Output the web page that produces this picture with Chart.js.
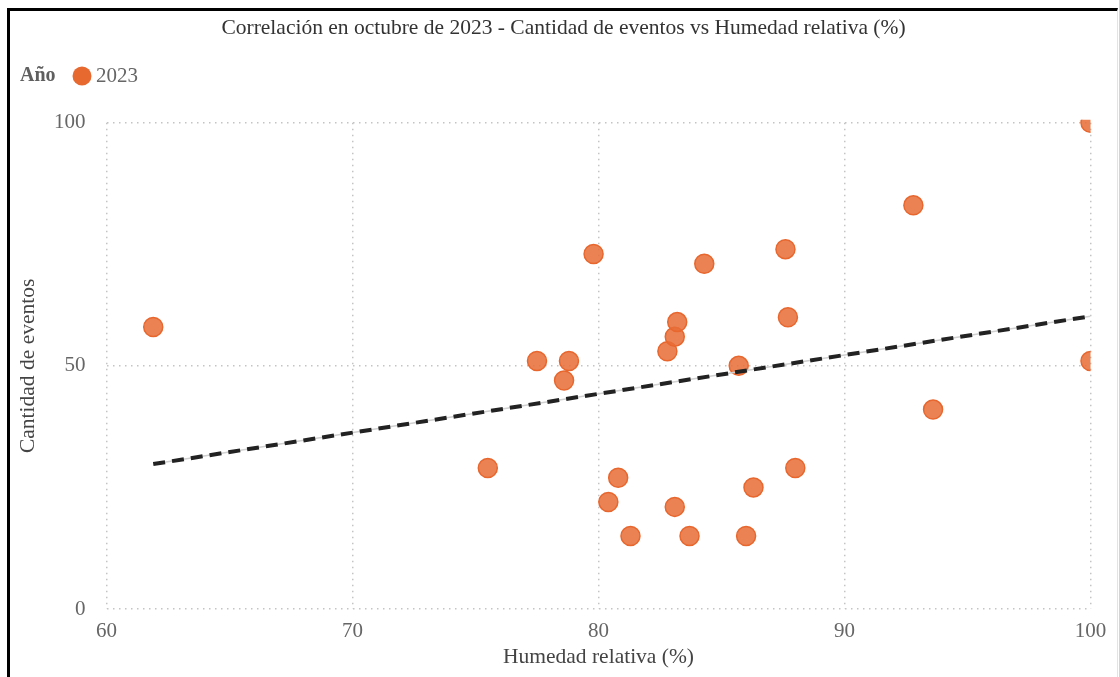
<!DOCTYPE html>
<html lang="es">
<head>
<meta charset="UTF-8">
<title>Correlación octubre 2023</title>
<script src="https://cdn.jsdelivr.net/npm/chart.js"></script>
<style>
    body {
        margin: 0;
        background: #ffffff;
        font-family: 'Liberation Serif', serif;
    }
    .frame {
        position: absolute;
        left: 7px;
        top: 8px;
        width: 1107px;
        height: 669px;
        border-left: 3px solid #000;
        border-top: 3px solid #000;
        border-right: 1px solid #e3e3e3;
    }
    canvas {
        display: block;
    }
</style>
</head>
<body>
<div class="frame">
    <canvas id="grafico" width="1107" height="666"></canvas>
</div>

<script>
// Humedad relativa (%) y cantidad de eventos, octubre 2023
const humedad = [61.9, 75.5, 77.5, 78.6, 78.8, 79.8, 80.4, 80.8, 81.3, 82.8, 83.1, 83.1, 83.2,
                 83.7, 84.3, 85.7, 86.0, 86.3, 87.6, 87.7, 88.0, 92.8, 93.6, 100, 100];
const eventos = [58, 29, 51, 47, 51, 73, 22, 27, 15, 53, 21, 56, 59,
                 15, 71, 50, 15, 25, 74, 60, 29, 83, 41, 100, 51];

// Línea de tendencia (extremos)
const tendenciaX = [61.9, 100];
const tendenciaY = [29.8, 60.2];

const ticksX = [60, 70, 80, 90, 100];
const ticksY = [0, 50, 100];

const titulo = 'Correlación en octubre de 2023 - Cantidad de eventos vs Humedad relativa (%)';
const serie = '2023';
const naranja = 'rgba(232, 110, 55, 0.86)';
const naranjaBorde = '#e8672e';
const fuente = "'Liberation Serif', 'Times New Roman', serif";

const puntos = humedad.map((h, i) => ({ x: h, y: eventos[i] }));
const tendencia = tendenciaX.map((h, i) => ({ x: h, y: tendenciaY[i] }));

// Título centrado en todo el lienzo y leyenda "Año ● 2023"
const encabezado = {
    id: 'encabezado',
    afterDraw(chart) {
        const ctx = chart.ctx;
        ctx.save();
        ctx.textAlign = 'center';
        ctx.textBaseline = 'alphabetic';
        ctx.fillStyle = '#333333';
        ctx.font = '21.5px ' + fuente;
        ctx.fillText(titulo, chart.width / 2, 22.5);

        ctx.textAlign = 'left';
        ctx.textBaseline = 'middle';
        ctx.fillStyle = '#5f5f5f';
        ctx.font = 'bold 20px ' + fuente;
        ctx.fillText('Año', 10, 65);
        ctx.beginPath();
        ctx.arc(72, 65, 9.5, 0, Math.PI * 2);
        ctx.fillStyle = '#e8692f';
        ctx.fill();
        ctx.fillStyle = '#666666';
        ctx.font = '21px ' + fuente;
        ctx.fillText(serie, 86, 65);
        ctx.restore();
    }
};

const grid = {
    color: '#c4c4c4',
    lineWidth: 1.5,
    drawTicks: false
};
const borde = { display: false, dash: [1.5, 4.5] };

new Chart(document.getElementById('grafico'), {
    type: 'scatter',
    data: {
        datasets: [{
            label: serie,
            data: puntos,
            backgroundColor: naranja,
            borderColor: naranjaBorde,
            borderWidth: 1.5,
            pointRadius: 9.5,
            pointHoverRadius: 9.5,
            clip: { left: 10, top: 3, right: 0, bottom: 10 },
            order: 2
        }, {
            label: 'tendencia base',
            data: tendencia,
            showLine: true,
            borderColor: '#d0d0d0',
            borderWidth: 1.5,
            pointRadius: 0,
            order: 1
        }, {
            label: 'tendencia',
            data: tendencia,
            showLine: true,
            borderColor: '#222222',
            borderWidth: 4,
            borderDash: [12, 7],
            pointRadius: 0,
            order: 0
        }]
    },
    options: {
        responsive: false,
        animation: false,
        layout: {
            padding: { left: 0, right: 26.5, top: 111.7, bottom: 0 }
        },
        plugins: {
            legend: { display: false },
            tooltip: { enabled: false },
            title: { display: false }
        },
        scales: {
            x: {
                type: 'linear',
                min: 60,
                max: 100,
                afterBuildTicks: (s) => { s.ticks = ticksX.map(v => ({ value: v })); },
                afterFit: (s) => { s.height = 68; },
                grid: grid,
                border: borde,
                ticks: {
                    color: '#666666',
                    padding: 10,
                    font: { family: fuente, size: 21, lineHeight: 1.2 }
                },
                title: {
                    display: true,
                    text: 'Humedad relativa (%)',
                    color: '#444444',
                    padding: { top: 0, bottom: 7 },
                    font: { family: fuente, size: 21.5, lineHeight: 1.2 }
                }
            },
            y: {
                type: 'linear',
                min: 0,
                max: 100,
                afterBuildTicks: (s) => { s.ticks = ticksY.map(v => ({ value: v })); },
                afterFit: (s) => { s.width = 96.5; },
                grid: grid,
                border: borde,
                ticks: {
                    color: '#666666',
                    padding: 21,
                    font: { family: fuente, size: 21, lineHeight: 1.2 }
                },
                title: {
                    display: true,
                    text: 'Cantidad de eventos',
                    color: '#444444',
                    padding: { top: 5, bottom: 0 },
                    font: { family: fuente, size: 21.5, lineHeight: 1.2 }
                }
            }
        }
    },
    plugins: [encabezado]
});
</script>
</body>
</html>
